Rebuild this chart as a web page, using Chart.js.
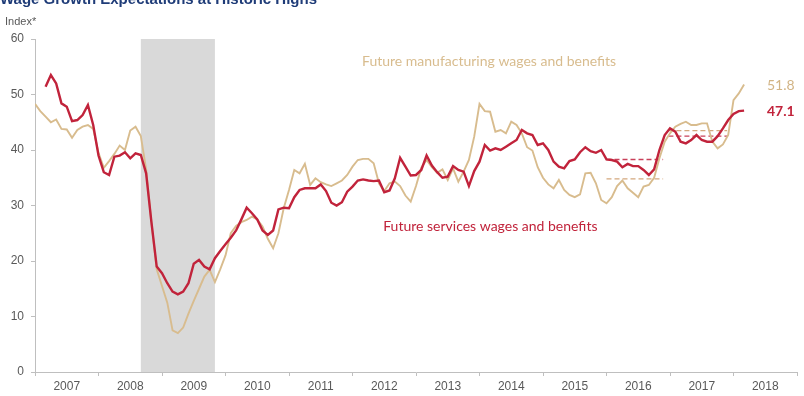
<!DOCTYPE html>
<html>
<head>
<meta charset="utf-8">
<script src="https://cdn.jsdelivr.net/npm/chart.js@4.4.1/dist/chart.umd.min.js"></script>
<style>
  html, body { margin: 0; padding: 0; background: #fff; }
  #wrap { width: 804px; height: 396px; position: relative; }
</style>
</head>
<body>
<div id="wrap"><canvas id="chart" width="804" height="396"></canvas></div>
<script>
// monthly index, month 0 = Jan 2007
const years = ['2007', '2008', '2009', '2010', '2011', '2012', '2013', '2014', '2015', '2016', '2017', '2018'];

const manufacturing = [
    48.3, 47.0, 46.0, 45.0, 45.5, 43.8, 43.7, 42.2, 43.6, 44.2, 44.5, 43.8,
    39.5, 36.8, 38.0, 39.3, 40.8, 40.0, 43.5, 44.2, 42.5, 36.5, 27.0, 18.5,
    15.5, 12.5, 7.5, 7.0, 8.0, 10.5, 12.8, 15.0, 17.2, 18.4, 16.2, 18.5,
    21.0, 25.0, 26.3, 27.0, 27.4, 28.0, 27.5, 26.2, 24.0, 22.3, 25.0, 29.5,
    32.8, 36.4, 35.8, 37.5, 33.7, 34.9, 34.2, 33.8, 33.5, 34.0, 34.5, 35.5,
    37.0, 38.2, 38.4, 38.4, 37.6, 34.0, 32.6, 34.0, 34.3, 33.5, 31.8, 30.7,
    33.5, 36.8, 38.2, 36.9, 35.9, 36.5, 34.6, 36.7, 34.3, 36.1, 38.2, 42.4,
    48.3, 47.0, 46.9, 43.3, 43.6, 43.0, 45.1, 44.5, 43.0, 40.5, 39.9, 36.9,
    35.0, 33.8, 33.1, 34.6, 32.8, 31.9, 31.5, 32.0, 35.8, 35.9, 34.0, 31.0,
    30.4, 31.5, 33.5, 34.5, 33.1, 32.3, 31.5, 33.4, 33.7, 35.0, 38.5, 41.5,
    43.0, 44.2, 44.7, 45.1, 44.5, 44.5, 44.8, 44.8, 41.5, 40.3, 41.0, 42.7,
    49.0, 50.2, 51.8
];

// services series begins in March 2007
const servicesStart = 2;
const services = [
                51.4, 53.5, 52.0, 48.4, 47.8, 45.2, 45.4, 46.3, 48.1, 44.5,
    39.0, 36.0, 35.5, 38.8, 39.0, 39.6, 38.5, 39.4, 39.1, 35.8, 27.0, 19.0,
    17.8, 16.0, 14.5, 14.0, 14.5, 16.0, 19.5, 20.2, 19.0, 18.5, 20.5, 21.8,
    23.0, 24.2, 25.5, 27.5, 29.6, 28.6, 27.5, 25.5, 24.7, 25.5, 29.3, 29.6,
    29.5, 31.5, 32.8, 33.1, 33.1, 33.1, 33.8, 32.6, 30.5, 30.0, 30.6, 32.5,
    33.4, 34.5, 34.7, 34.5, 34.4, 34.5, 32.4, 32.7, 34.9, 38.6, 37.0, 35.4,
    35.5, 36.4, 39.0, 37.2, 36.0, 35.0, 35.2, 37.1, 36.4, 36.1, 33.5, 36.2,
    37.9, 40.9, 39.9, 40.3, 40.0, 40.6, 41.2, 41.8, 43.6, 43.0, 42.7, 40.9,
    41.2, 40.0, 37.9, 37.0, 36.7, 38.0, 38.3, 39.6, 40.5, 39.8, 39.5, 40.0,
    38.3, 38.2, 37.9, 36.9, 37.5, 37.1, 37.1, 36.4, 35.5, 36.5, 40.0, 42.7,
    43.9, 43.3, 41.5, 41.2, 41.8, 42.7, 41.8, 41.5, 41.5, 42.5, 43.9, 45.4,
    46.5, 47.0, 47.1
];

// yearly averages shown as dashed lines: [startMonth, endMonth, services, manufacturing]
const averages = [
    [108, 118.7, 38.3, 34.8],
    [119.7, 130.8, 42.5, 43.5]
];

// shaded period in months
const recession = [20, 34];

const RED = '#C1233B';
const TAN = '#D8BC8E';
const GREY = '#595959';

const toPoints = (vals, start) => vals.map((v, i) => ({ x: i + start, y: v }));

const avgSets = [];
averages.forEach(([a, b, s, m]) => {
    avgSets.push({
        data: [{ x: a, y: s }, { x: b, y: s }],
        borderColor: '#C9405A', borderWidth: 1.4, borderDash: [5, 3],
        pointRadius: 0, order: 3
    });
    avgSets.push({
        data: [{ x: a, y: m }, { x: b, y: m }],
        borderColor: '#D4A87E', borderWidth: 1.4, borderDash: [5, 3],
        pointRadius: 0, order: 3
    });
});

const shadePlugin = {
    id: 'shade',
    beforeDatasetsDraw(chart) {
        const { ctx, chartArea: { top, bottom }, scales: { x } } = chart;
        const x0 = x.getPixelForValue(recession[0]);
        const x1 = x.getPixelForValue(recession[1]);
        ctx.save();
        ctx.fillStyle = '#D9D9D9';
        ctx.fillRect(x0, top, x1 - x0, bottom - top);
        ctx.restore();
    }
};

const textPlugin = {
    id: 'texts',
    afterDraw(chart) {
        const { ctx, scales: { x, y } } = chart;
        ctx.save();
        // title runs off the top edge
        ctx.fillStyle = '#1F3C78';
        ctx.font = 'bold 15px "Liberation Sans", Arial, sans-serif';
        ctx.textBaseline = 'alphabetic';
        ctx.fillText('Wage Growth Expectations at Historic Highs', 0, 4);

        ctx.fillStyle = GREY;
        ctx.font = '11px "Liberation Sans", Arial, sans-serif';
        ctx.textBaseline = 'middle';
        ctx.fillText('Index*', 5, 22);

        ctx.font = '14px Lato, sans-serif';
        ctx.fillStyle = TAN;
        ctx.fillText('Future manufacturing wages and benefits', x.getPixelForValue(61.8), y.getPixelForValue(55.9));
        ctx.fillStyle = RED;
        ctx.fillText('Future services wages and benefits', x.getPixelForValue(65.8), y.getPixelForValue(26.3));

        // end values
        const lastM = manufacturing[manufacturing.length - 1];
        const lastS = services[services.length - 1];
        ctx.font = '14px Lato, sans-serif';
        ctx.fillStyle = '#D2B485';
        ctx.fillText(lastM.toFixed(1), 767, y.getPixelForValue(lastM) + 1);
        ctx.font = 'bold 14px Lato, sans-serif';
        ctx.fillStyle = RED;
        ctx.fillText(lastS.toFixed(1), 767, y.getPixelForValue(lastS) + 1);
        ctx.restore();
    }
};

new Chart(document.getElementById('chart').getContext('2d'), {
    type: 'line',
    data: {
        datasets: [{
            label: 'Future services wages and benefits',
            data: toPoints(services, servicesStart),
            borderColor: RED, borderWidth: 2.4, pointRadius: 0, order: 1
        }, {
            label: 'Future manufacturing wages and benefits',
            data: toPoints(manufacturing, 0),
            borderColor: TAN, borderWidth: 1.9, pointRadius: 0, order: 2
        }, ...avgSets]
    },
    options: {
        responsive: false,
        animation: false,
        devicePixelRatio: 1,
        layout: { padding: { top: 39, right: 7, bottom: 0, left: 0 } },
        plugins: { legend: { display: false }, tooltip: { enabled: false } },
        scales: {
            x: {
                type: 'linear', min: 0, max: 144,
                afterFit: (s) => { s.height = 24; },
                afterBuildTicks: (s) => {
                    const t = [];
                    for (let i = 0; i <= years.length; i++) {
                        t.push({ value: i * 12 });
                        if (i < years.length) t.push({ value: i * 12 + 6 });
                    }
                    s.ticks = t;
                },
                ticks: {
                    autoSkip: false, maxRotation: 0, padding: 3,
                    color: GREY, font: { family: '"Liberation Sans", Arial, sans-serif', size: 12 },
                    callback: (v) => (v % 12 === 6 ? years[(v - 6) / 12] : '')
                },
                grid: {
                    drawOnChartArea: false, tickLength: 4,
                    color: (c) => (c.tick && c.tick.value % 12 === 0 ? '#BFBFBF' : 'rgba(0,0,0,0)')
                },
                border: { color: '#BFBFBF' }
            },
            y: {
                min: 0, max: 60,
                afterFit: (s) => { s.width = 35; },
                ticks: {
                    stepSize: 10, padding: 7, color: GREY,
                    font: { family: '"Liberation Sans", Arial, sans-serif', size: 12 }
                },
                grid: { drawOnChartArea: false, tickLength: 4, color: '#BFBFBF' },
                border: { color: '#BFBFBF' }
            }
        }
    },
    plugins: [shadePlugin, textPlugin]
});
</script>
</body>
</html>
